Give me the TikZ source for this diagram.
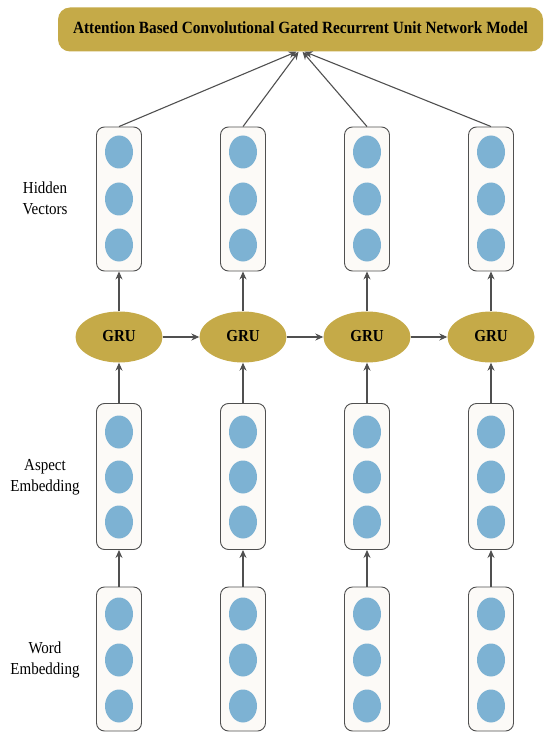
\documentclass[tikz,border=0pt]{standalone}
\usepackage{fontspec}
\usepackage{graphicx}
\setmainfont{Liberation Serif}
\usetikzlibrary{arrows.meta,shapes.geometric,calc}
\definecolor{gold}{RGB}{197,170,72}
\definecolor{unitblue}{RGB}{125,178,211}
\definecolor{boxfill}{RGB}{252,250,247}
\definecolor{linegray}{RGB}{80,80,80}
% slightly tall lettering, as in the typeset figure
\newcommand{\talltext}[1]{\scalebox{1}[1.12]{\begin{tabular}{@{}c@{}}#1\end{tabular}}}
\begin{document}
\begin{tikzpicture}[x=1pt,y=-1pt,
  vecbox/.style={draw=linegray, line width=0.9pt, fill=boxfill, rounded corners=8pt,
    minimum width=45pt, minimum height=#1, inner sep=0pt},
  vecbox/.default=144pt,
  unit/.style={ellipse, fill=unitblue, minimum width=28pt, minimum height=33pt, inner sep=0pt},
  gru/.style={ellipse, fill=gold, minimum width=87pt, minimum height=51pt, inner sep=0pt,
    font=\fontsize{15}{18}\selectfont\bfseries},
  headbox/.style={fill=gold, rounded corners=12pt, minimum width=485pt, minimum height=44pt,
    inner sep=0pt, font=\fontsize{15.3}{18}\selectfont\bfseries},
  arr/.style={draw=linegray, line width=1.1pt, -{Stealth[length=8pt,width=7pt]}},
  lbl/.style={align=center, font=\fontsize{15}{18}\selectfont}]
\useasboundingbox (0,0) rectangle (546,735);

% model header
\node[headbox] (title) at (300.5,29.5) {\talltext{Attention Based Convolutional Gated Recurrent Unit Network Model}};
\coordinate (t1) at ($(title.south)+(-4,0)$);
\coordinate (t2) at ($(title.south)+(-2,0)$);
\coordinate (t3) at ($(title.south)+(2,0)$);
\coordinate (t4) at ($(title.south)+(4,0)$);

% row labels
\node[lbl] (lh) at (45,200) {\talltext{Hidden\\Vectors}};
\node[lbl] (la) at (45,477) {\talltext{Aspect\\Embedding}};
\node[lbl] (lw) at (45,660) {\talltext{Word\\Embedding}};

% four time steps
\foreach \i/\x in {1/119,2/243,3/367,4/491}{
  \node[vecbox] (h\i) at (\x,199) {};
  \foreach \j/\y in {1/152,2/199,3/245}
    \node[unit] (h\i-\j) at (\x,\y) {};
  \node[gru] (g\i) at (\x,337) {\talltext{GRU}};
  \node[vecbox=146pt] (a\i) at (\x,476.5) {};
  \foreach \j/\y in {1/432,2/477,3/522}
    \node[unit] (a\i-\j) at (\x,\y) {};
  \node[vecbox] (w\i) at (\x,659) {};
  \foreach \j/\y in {1/614,2/660,3/706}
    \node[unit] (w\i-\j) at (\x,\y) {};
  \draw[arr] (w\i.north) -- (a\i.south);
  \draw[arr] (a\i.north) -- (g\i.south);
  \draw[arr] (g\i.north) -- (h\i.south);
  \draw[arr] (h\i.north) -- (t\i);
}

% recurrent links
\draw[arr] (g1.east) -- (g2.west);
\draw[arr] (g2.east) -- (g3.west);
\draw[arr] (g3.east) -- (g4.west);
\end{tikzpicture}
\end{document}
